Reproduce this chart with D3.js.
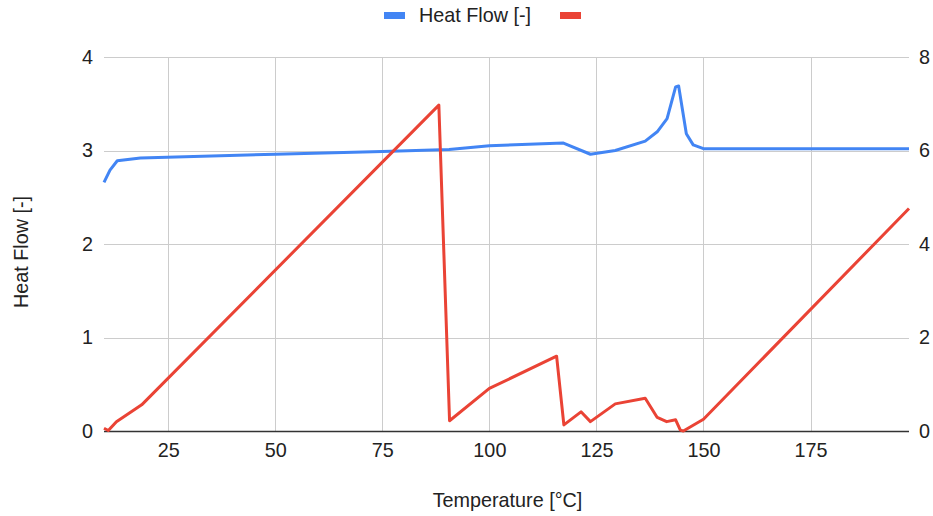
<!DOCTYPE html>
<html>
<head>
<meta charset="utf-8">
<script src="https://cdn.jsdelivr.net/npm/d3@7"></script>
<style>
    body { margin: 0; background: #fff; }
    svg { font-family: "Liberation Sans", Arial, sans-serif; }
</style>
</head>
<body>
<svg id="chart" width="933" height="516"></svg>
<script>
// temperature points and the two series
const heatTemps = [10, 11.4, 13.1, 18.5, 50, 75, 90.6, 100, 117.3, 123.6, 129.4, 136.4, 139.2, 141.5, 143.5, 144.2, 146, 147.6, 150, 198];
const heatFlow = [2.66, 2.79, 2.89, 2.92, 2.96, 2.99, 3.01, 3.05, 3.08, 2.96, 3.0, 3.1, 3.2, 3.34, 3.68, 3.69, 3.18, 3.06, 3.02, 3.02];

const redTemps = [10, 11, 12.9, 18.8, 88.2, 90.7, 100, 115.7, 117.4, 121.4, 123.6, 129.4, 136.4, 139.2, 141.4, 143.5, 144.6, 145.3, 150, 198];
const redValues = [0.06, 0.01, 0.2, 0.56, 6.97, 0.22, 0.91, 1.6, 0.13, 0.41, 0.2, 0.58, 0.7, 0.29, 0.2, 0.24, 0.02, 0.0, 0.25, 4.76];

const xTicks = [25, 50, 75, 100, 125, 150, 175];
const leftTicks = [0, 1, 2, 3, 4];
const rightTicks = [0, 2, 4, 6, 8];

const seriesNames = ["Heat Flow [-]", ""];
const colors = ["#4285f4", "#ea4335"];

(function (d3) {
    'use strict';

    const svg = d3.select("#chart");
    const left = 104, right = 909, top = 57, bottom = 431;
    const fontSize = 19.8;

    const x = d3.scaleLinear().domain([10, 198]).range([left, right]);
    const yL = d3.scaleLinear().domain([0, 4]).range([bottom, top]);
    const yR = d3.scaleLinear().domain([0, 8]).range([bottom, top]);

    // grid
    const grid = svg.append("g");
    grid.selectAll(".hg").data(leftTicks.slice(1)).enter().append("line")
        .attr("x1", left).attr("x2", right)
        .attr("y1", d => Math.round(yL(d)) + 0.5).attr("y2", d => Math.round(yL(d)) + 0.5)
        .style("stroke", "#cccccc");
    grid.selectAll(".vg").data(xTicks).enter().append("line")
        .attr("x1", d => Math.round(x(d)) + 0.5).attr("x2", d => Math.round(x(d)) + 0.5)
        .attr("y1", top).attr("y2", bottom)
        .style("stroke", "#cccccc");

    // axes built with d3, then restyled
    const xAxis = svg.append("g")
        .attr("transform", `translate(0,${bottom})`)
        .call(d3.axisBottom(x).tickValues(xTicks).tickSize(0).tickPadding(12));
    xAxis.select(".domain").remove();

    const leftAxis = svg.append("g")
        .attr("transform", `translate(${left},0)`)
        .call(d3.axisLeft(yL).tickValues(leftTicks).tickFormat(d3.format("d")).tickSize(0).tickPadding(11));
    leftAxis.select(".domain").remove();

    const rightAxis = svg.append("g")
        .attr("transform", `translate(${right},0)`)
        .call(d3.axisRight(yR).tickValues(rightTicks).tickFormat(d3.format("d")).tickSize(0).tickPadding(10));
    rightAxis.select(".domain").remove();

    svg.selectAll(".tick text")
        .style("font-size", fontSize + "px")
        .style("font-family", "'Liberation Sans', Arial, sans-serif")
        .style("fill", "#222");

    // baseline
    svg.append("line")
        .attr("x1", left).attr("x2", right)
        .attr("y1", bottom + 0.5).attr("y2", bottom + 0.5)
        .style("stroke", "#333").style("stroke-width", 1.5);

    // lines
    const blueLine = d3.line().x((d, i) => x(heatTemps[i])).y(d => yL(d));
    const redLine = d3.line().x((d, i) => x(redTemps[i])).y(d => yR(d));

    svg.append("path").datum(heatFlow)
        .attr("d", blueLine)
        .style("fill", "none").style("stroke", colors[0])
        .style("stroke-width", 3).style("stroke-linejoin", "round");

    svg.append("path").datum(redValues)
        .attr("d", redLine)
        .style("fill", "none").style("stroke", colors[1])
        .style("stroke-width", 3).style("stroke-linejoin", "round");

    // axis titles
    svg.append("text")
        .attr("x", (left + right) / 2 + 1).attr("y", 507)
        .attr("text-anchor", "middle")
        .style("font-size", fontSize + "px").style("fill", "#222")
        .text("Temperature [°C]");

    svg.append("text")
        .attr("transform", `translate(28,252) rotate(-90)`)
        .attr("text-anchor", "middle")
        .style("font-size", fontSize + "px").style("fill", "#222")
        .text("Heat Flow [-]");

    // legend
    const legend = svg.append("g");
    legend.append("rect").attr("x", 384).attr("y", 12).attr("width", 21).attr("height", 7).style("fill", colors[0]);
    legend.append("text").attr("x", 419).attr("y", 22)
        .style("font-size", fontSize + "px").style("fill", "#222")
        .text(seriesNames[0]);
    legend.append("rect").attr("x", 560).attr("y", 12).attr("width", 21).attr("height", 7).style("fill", colors[1]);

}(d3));
</script>
</body>
</html>
